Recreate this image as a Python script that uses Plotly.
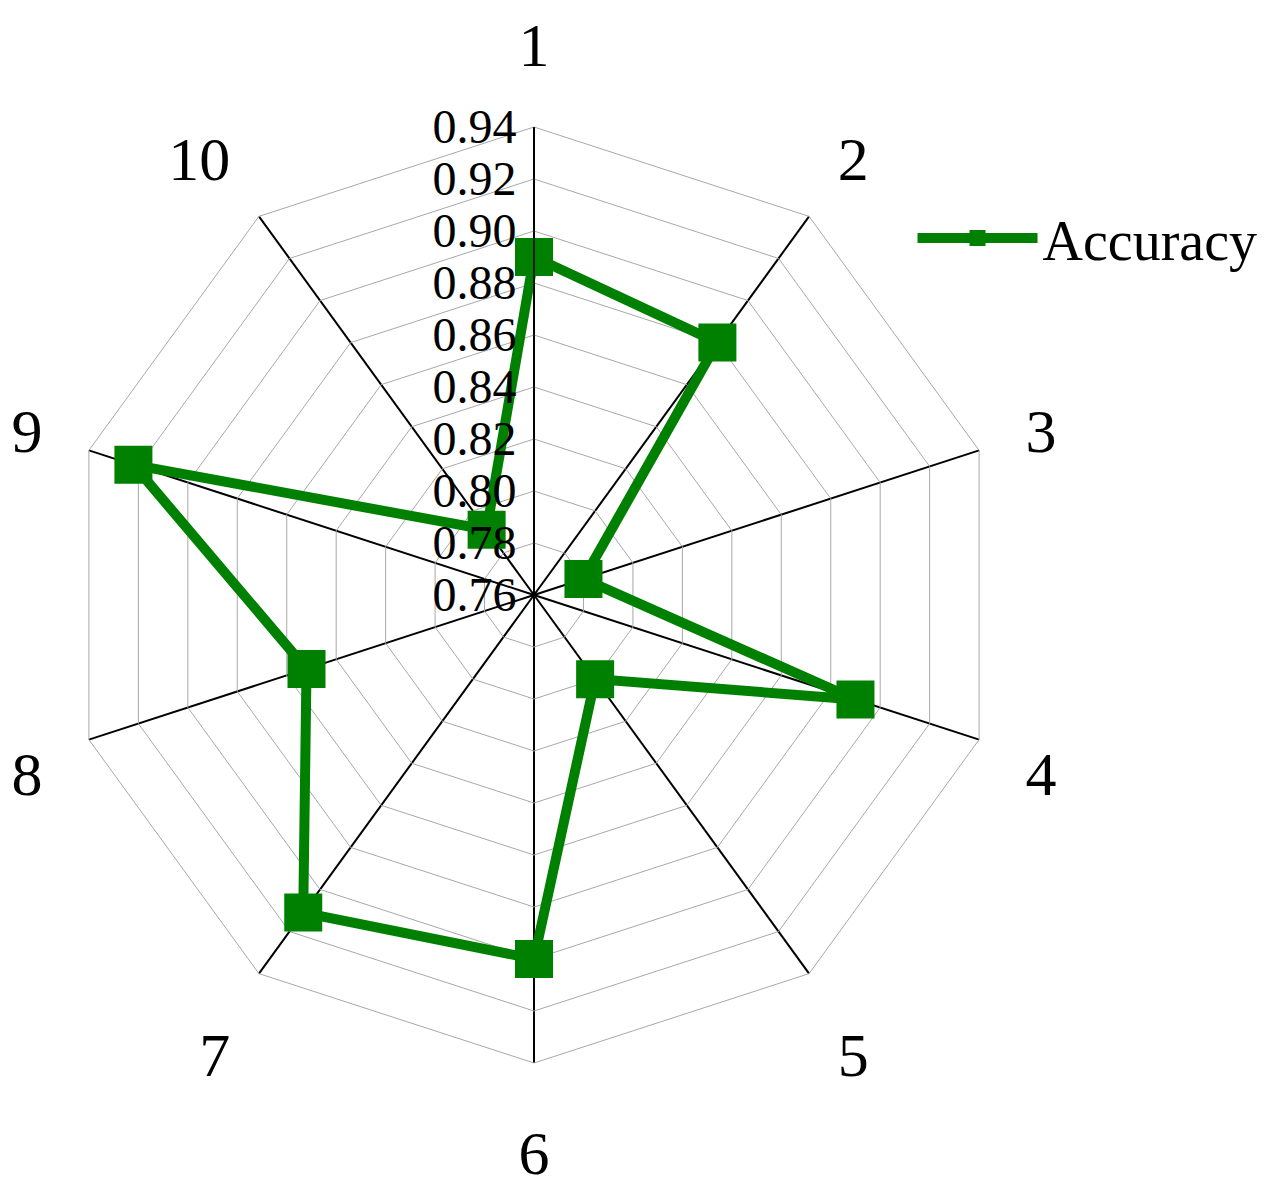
import plotly.graph_objects as go

categories = ["1", "2", "3", "4", "5", "6", "7", "8", "9", "10"]
accuracy = [0.890, 0.880, 0.780, 0.890, 0.800, 0.900, 0.911, 0.852, 0.922, 0.791]
radial_ticks = [0.76, 0.78, 0.80, 0.82, 0.84, 0.86, 0.88, 0.90, 0.92, 0.94]

GREEN = "rgb(0,128,0)"
FONT = "Liberation Serif, Times New Roman, serif"

fig = go.Figure()
fig.add_trace(go.Scatterpolar(
    r=accuracy + accuracy[:1],
    theta=categories + categories[:1],
    mode="lines+markers",
    name="Accuracy",
    line=dict(color=GREEN, width=10),
    marker=dict(symbol="square", size=38, color=GREEN),
))

W, H = 1283, 1202
cx, cy, R = 526, 587, 468
fig.update_layout(
    width=W, height=H,
    margin=dict(l=0, r=0, t=0, b=0),
    paper_bgcolor="white",
    font=dict(family=FONT, color="black"),
    polar=dict(
        domain=dict(x=[(cx - R) / W, (cx + R) / W], y=[1 - (cy + R) / H, 1 - (cy - R) / H]),
        bgcolor="white",
        gridshape="linear",
        angularaxis=dict(
            direction="clockwise", rotation=90,
            showline=True, linecolor="#a8a8a8", linewidth=1,
            gridcolor="black", gridwidth=1.5,
            ticks="outside", ticklen=36, tickcolor="rgba(0,0,0,0)",
            tickfont=dict(size=62, family=FONT, color="black"),
        ),
        radialaxis=dict(
            range=[0.76, 0.94], angle=90, tickangle=90,
            tickvals=radial_ticks, ticktext=[f"{v:.2f}" for v in radial_ticks],
            showline=True, linecolor="black", linewidth=1.5,
            gridcolor="#a8a8a8", gridwidth=1,
            ticks="", side="counterclockwise",
            tickfont=dict(size=48, family=FONT, color="black"),
        ),
    ),
    showlegend=True,
    legend=dict(
        x=0.705, y=1 - 230 / H, xanchor="left", yanchor="middle",
        font=dict(size=56, family=FONT, color="black"),
        bgcolor="rgba(0,0,0,0)", itemwidth=120,
    ),
)

fig.write_html("out.html")
